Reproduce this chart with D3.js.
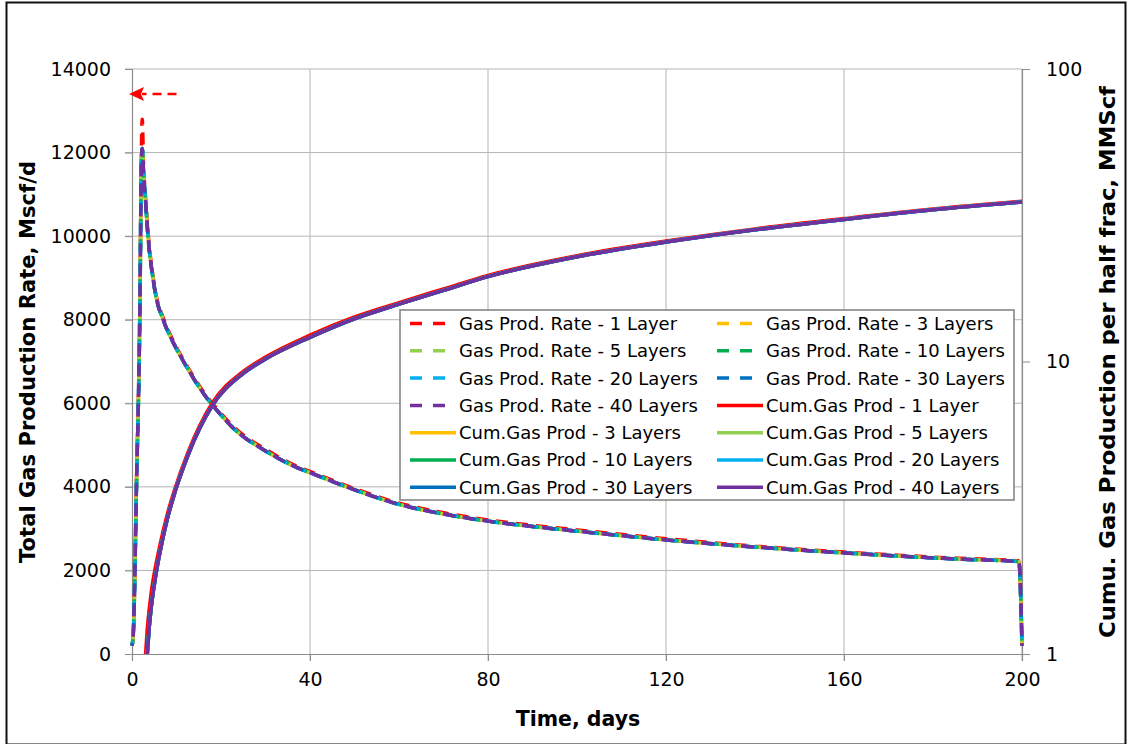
<!DOCTYPE html>
<html>
<head>
    <title>Gas Production vs Layers</title>
    <script src="https://cdnjs.cloudflare.com/ajax/libs/d3/7.8.5/d3.min.js"></script>
    <style>
        body { margin: 0; background: white; }
        text { font-family: "DejaVu Sans", Verdana, sans-serif; fill: #000; }
        .grid line { stroke: #b5b5b5; stroke-width: 1; }
        .title { font-weight: bold; font-size: 20.5px; }
        .tick-label { font-size: 19px; }
        .legend-text { font-size: 18px; }
    </style>
</head>
<body>
    <svg id="chart"></svg>

    <script>
        const width = 1129;
        const height = 744;

        // --- data ---
        const layers = [1, 3, 5, 10, 20, 30, 40];
        const colors = ["#FF0000", "#FFC000", "#92D050", "#00B050", "#00B0F0", "#0070C0", "#7030A0"];

        // gas production rate, Mscf/d
        const rateDays = [0, 0.3, 1.0, 1.8, 2.1, 2.3, 2.6, 3.0, 3.6, 4.7, 5.5, 7, 10, 12.4, 14.5, 17.5, 19, 23, 30, 37.8, 40, 45, 51, 60, 70, 80, 90, 100, 120, 140, 160, 180, 186, 199.3, 200];
        const rate1Layer = [200, 500, 4100, 8700, 12000, 12800, 11700, 11000, 10100, 9050, 8550, 8050, 7340, 6890, 6520, 6070, 5880, 5420, 4900, 4460, 4370, 4160, 3920, 3610, 3380, 3210, 3080, 2970, 2760, 2580, 2440, 2320, 2290, 2230, 200];
        const rateMultiLayer = [200, 500, 4000, 8500, 11700, 12100, 11500, 10900, 10000, 9000, 8500, 8000, 7300, 6850, 6480, 6030, 5840, 5380, 4860, 4430, 4340, 4130, 3890, 3580, 3350, 3180, 3050, 2940, 2730, 2560, 2420, 2300, 2270, 2210, 200];

        // cumulative gas per half frac, MMScf
        const cumDays1 = [3.05, 3.4, 3.82, 4.38, 5.17, 6.29, 7.87, 9.66, 12.6, 18, 25, 30, 40, 50, 60, 70, 80, 100, 120, 140, 160, 180, 200];
        const cum1Layer = [1.0, 1.2, 1.4, 1.65, 1.95, 2.36, 2.98, 3.68, 4.9, 7.2, 9.25, 10.35, 12.3, 14.2, 15.9, 17.7, 19.7, 23.0, 25.8, 28.4, 30.8, 33.2, 35.3];
        const cumDays = [3.44, 3.82, 4.38, 5.17, 6.29, 7.87, 9.66, 12.6, 18, 25, 30, 40, 50, 60, 70, 80, 100, 120, 140, 160, 180, 200];
        const cumMultiLayer = [1.0, 1.21, 1.47, 1.79, 2.23, 2.87, 3.58, 4.79, 7.05, 9.1, 10.2, 12.1, 14.0, 15.7, 17.5, 19.5, 22.8, 25.6, 28.2, 30.6, 33.0, 35.1];

        const xTicks = [0, 40, 80, 120, 160, 200];
        const yLeftTicks = [0, 2000, 4000, 6000, 8000, 10000, 12000, 14000];
        const yRightTicks = [1, 10, 100];
        const arrowFrom = [10, 13400];
        const arrowTo = [0, 13400];

        const rateSeries = layers.map((n, i) => ({
            name: "Gas Prod. Rate - " + n + (n === 1 ? " Layer" : " Layers"),
            color: colors[i],
            days: rateDays,
            values: i === 0 ? rate1Layer : rateMultiLayer
        }));
        const cumSeries = layers.map((n, i) => ({
            name: "Cum.Gas Prod - " + n + (n === 1 ? " Layer" : " Layers"),
            color: colors[i],
            days: i === 0 ? cumDays1 : cumDays,
            values: i === 0 ? cum1Layer : cumMultiLayer
        }));

        // --- layout ---
        const plotLeft = 132, plotRight = 1022, plotTop = 69, plotBottom = 654;

        const svg = d3.select("#chart")
            .attr("width", width)
            .attr("height", height);

        svg.append("rect")
            .attr("width", width).attr("height", height)
            .attr("fill", "white");

        // outer frame
        svg.append("rect")
            .attr("x", 6.5).attr("y", 2.5)
            .attr("width", 1119).attr("height", 742)
            .attr("fill", "none")
            .attr("stroke", "#111")
            .attr("stroke-width", 2);

        const x = d3.scaleLinear().domain([0, 200]).range([plotLeft, plotRight]);
        const yL = d3.scaleLinear().domain([0, 14000]).range([plotBottom, plotTop]);
        const yR = d3.scaleLog().domain([1, 100]).range([plotBottom, plotTop]);

        // gridlines
        const grid = svg.append("g").attr("class", "grid");
        grid.selectAll(".h")
            .data(yLeftTicks.filter(d => d > 0))
            .join("line")
            .attr("class", "h")
            .attr("x1", plotLeft - 7).attr("x2", plotRight)
            .attr("y1", d => yL(d)).attr("y2", d => yL(d));
        grid.selectAll(".v")
            .data(xTicks.filter(d => d > 0))
            .join("line")
            .attr("class", "v")
            .attr("x1", d => x(d)).attr("x2", d => x(d))
            .attr("y1", plotTop).attr("y2", plotBottom + 7);

        // axes
        const axisL = svg.append("g")
            .attr("transform", `translate(${plotLeft},0)`)
            .call(d3.axisLeft(yL).tickValues(yLeftTicks).tickSize(7).tickPadding(14).tickFormat(d3.format("d")));
        const axisB = svg.append("g")
            .attr("transform", `translate(0,${plotBottom})`)
            .call(d3.axisBottom(x).tickValues(xTicks).tickSize(7).tickPadding(12).tickFormat(d3.format("d")));
        const axisR = svg.append("g")
            .attr("transform", `translate(${plotRight},0)`)
            .call(d3.axisRight(yR).tickValues(yRightTicks).tickSize(8).tickPadding(16).tickFormat(d3.format("d")));

        [axisL, axisB, axisR].forEach(a => {
            a.select(".domain").attr("stroke", "#8c8c8c").attr("stroke-width", 1.2);
            a.selectAll(".tick line").attr("stroke", "#8c8c8c");
            a.selectAll(".tick text")
                .attr("class", "tick-label")
                .attr("fill", "#000")
                .style("font-family", '"DejaVu Sans", Verdana, sans-serif')
                .style("font-size", "19px");
        });

        // axis titles
        svg.append("text")
            .attr("class", "title")
            .attr("x", 578).attr("y", 726)
            .attr("text-anchor", "middle")
            .text("Time, days");
        svg.append("text")
            .attr("class", "title")
            .attr("transform", "translate(35,362) rotate(-90)")
            .attr("text-anchor", "middle")
            .attr("textLength", 402)
            .attr("lengthAdjust", "spacingAndGlyphs")
            .text("Total Gas Production Rate, Mscf/d");
        svg.append("text")
            .attr("class", "title")
            .attr("transform", "translate(1115,362) rotate(-90)")
            .attr("text-anchor", "middle")
            .attr("textLength", 552)
            .attr("lengthAdjust", "spacingAndGlyphs")
            .style("font-size", "21.5px")
            .text("Cumu. Gas Production per half frac, MMScf");

        // series
        const plot = svg.append("g");

        const rateLine = d3.line()
            .x(d => x(d[0]))
            .y(d => yL(d[1]))
            .curve(d3.curveMonotoneX);
        const cumLine = d3.line()
            .x(d => x(d[0]))
            .y(d => yR(d[1]))
            .curve(d3.curveMonotoneX);

        plot.selectAll(".rate")
            .data(rateSeries)
            .join("path")
            .attr("class", "rate")
            .attr("fill", "none")
            .attr("stroke", d => d.color)
            .attr("stroke-width", 3.5)
            .attr("stroke-dasharray", "12,8")
            .attr("stroke-dashoffset", (d, i) => i * 1.8)
            .attr("d", d => rateLine(d.days.map((t, i) => [t, d.values[i]])));

        plot.selectAll(".cum")
            .data(cumSeries)
            .join("path")
            .attr("class", "cum")
            .attr("fill", "none")
            .attr("stroke", d => d.color)
            .attr("stroke-width", 3.5)
            .attr("d", d => cumLine(d.days.map((t, i) => [t, d.values[i]])));

        // red arrow pointing at left axis
        const ax0 = x(arrowFrom[0]), ay = yL(arrowFrom[1]), ax1 = x(arrowTo[0]);
        svg.append("line")
            .attr("x1", ax0).attr("y1", ay)
            .attr("x2", ax1 + 10).attr("y2", ay)
            .attr("stroke", "#FF0000")
            .attr("stroke-width", 2.5)
            .attr("stroke-dasharray", "9,6");
        svg.append("path")
            .attr("d", `M${ax1 - 3},${ay} L${ax1 + 12},${ay - 7} L${ax1 + 9},${ay} L${ax1 + 12},${ay + 7} Z`)
            .attr("fill", "#FF0000");

        // legend
        const legendItems = rateSeries.map(d => ({...d, dashed: true}))
            .concat(cumSeries.map(d => ({...d, dashed: false})));
        const legend = svg.append("g").attr("transform", "translate(400,310)");
        legend.append("rect")
            .attr("width", 614).attr("height", 190)
            .attr("fill", "white")
            .attr("stroke", "#7f7f7f")
            .attr("stroke-width", 1.5);

        const item = legend.selectAll(".item")
            .data(legendItems)
            .join("g")
            .attr("class", "item")
            .attr("transform", (d, i) => `translate(${i % 2 === 0 ? 10 : 317},${13.5 + Math.floor(i / 2) * 27.3})`);
        item.append("line")
            .attr("x1", 0).attr("x2", 46)
            .attr("stroke", d => d.color)
            .attr("stroke-width", 3.5)
            .attr("stroke-dasharray", d => d.dashed ? "12,11" : null);
        item.append("text")
            .attr("class", "legend-text")
            .attr("x", 49)
            .attr("dy", "0.36em")
            .text(d => d.name);
    </script>
</body>
</html>
